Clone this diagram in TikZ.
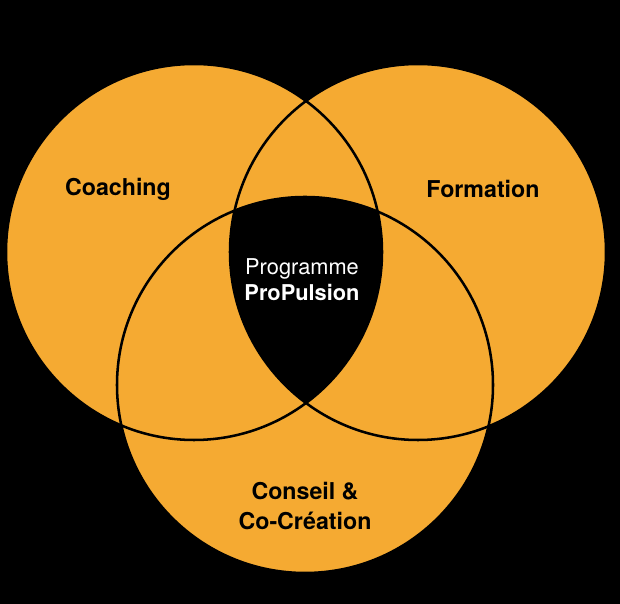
\documentclass[tikz,border=0pt]{standalone}
\usepackage{fontspec}
\setmainfont{TeX Gyre Heros}
\usetikzlibrary{positioning}
\definecolor{propOrange}{RGB}{245,170,50}

\begin{document}
\begin{tikzpicture}[
  ring/.style={draw=black, line width=1.8pt},
  zonetext/.style={font=\fontsize{16.5}{21}\selectfont\bfseries, text=black, align=center},
  coretext/.style={font=\fontsize{15.5}{18.5}\selectfont, text=white, align=center}
]

% Fond noir
\fill[black] (0,0) rectangle (15.5,15.1);
\useasboundingbox (0,0) rectangle (15.5,15.1);

% Centres des cercles
\coordinate (cCoach) at (4.85,8.8);
\coordinate (cForm) at (10.45,8.8);
\coordinate (cConseil) at (7.625,5.475);

% Remplissage orange
\fill[propOrange] (cCoach) circle (4.7cm);
\fill[propOrange] (cForm) circle (4.7cm);
\fill[propOrange] (cConseil) circle (4.7cm);

% Zone centrale
\begin{scope}
  \clip (cCoach) circle (4.7cm);
  \clip (cForm) circle (4.7cm);
  \fill[black] (cConseil) circle (4.7cm);
\end{scope}

% Contours
\draw[ring] (cCoach) circle (4.7cm);
\draw[ring] (cForm) circle (4.7cm);
\draw[ring] (cConseil) circle (4.7cm);

% Textes
\node[zonetext] (coaching) at (2.95,10.375) {Coaching};
\node[zonetext] (formation) at (12.075,10.375) {Formation};
\node[zonetext] (conseil) at (7.625,2.45) {Conseil \&\\Co-Création};
\node[coretext] (programme) at (7.55,8.1) {Programme\\\textbf{ProPulsion}};

\end{tikzpicture}
\end{document}
